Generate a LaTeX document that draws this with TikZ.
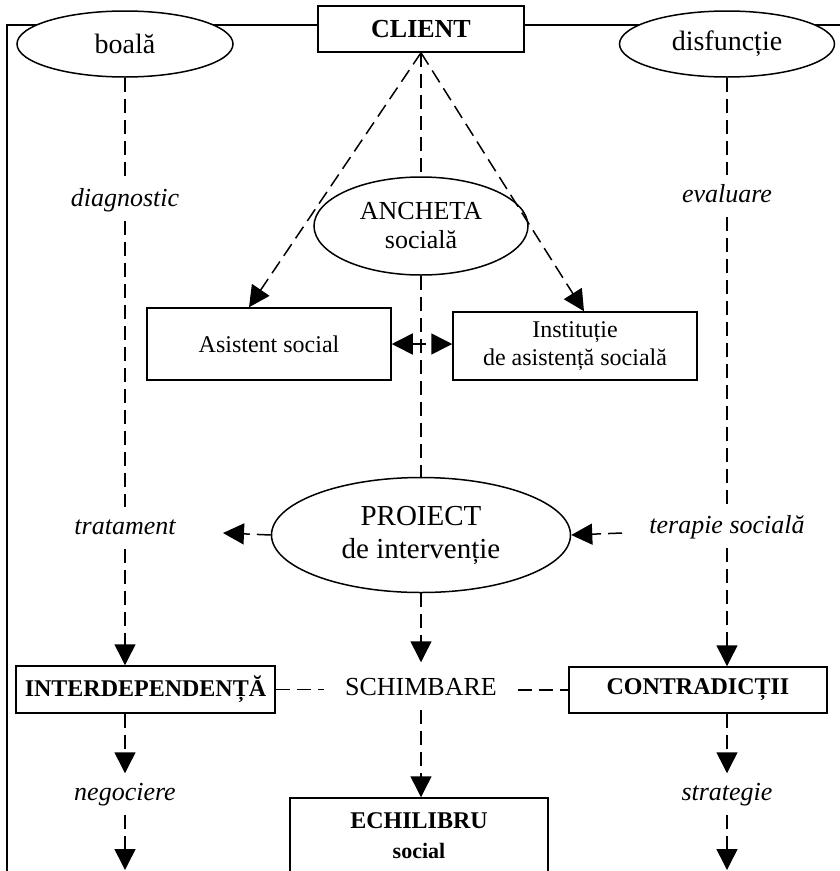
\documentclass[tikz,border=0pt]{standalone}
\usepackage{fontspec}
\setmainfont{Liberation Serif}
\usetikzlibrary{shapes.geometric,arrows.meta,calc}

\begin{document}
\begin{tikzpicture}[x=1pt,y=-1pt,
  line width=1.5pt,
  tip/.tip={Triangle[length=21pt,width=21pt]},
  plain/.style={dash pattern=on 14pt off 7pt},
  conn/.style={plain,-tip},
  oval/.style={ellipse,draw,fill=white,inner sep=0pt,align=center},
  box/.style={rectangle,draw,fill=white,inner sep=0pt,align=center},
  lbl/.style={font=\fontsize{26}{30}\selectfont\itshape,anchor=base,
    text height=18pt,text depth=6pt,inner xsep=2pt,inner ysep=8pt},
]
\useasboundingbox (0,0) rectangle (840,871);

% outer frame (left and top edges)
\coordinate (fb) at (7,874);
\coordinate (ft) at (7,25);
\coordinate (fr) at (842,25);
\draw (fb) -- (ft) -- (fr);

% top row
\node[oval,minimum width=216pt,minimum height=66pt,font=\fontsize{28}{32}\selectfont]
  (boala) at (125,44) {boală};
\node[oval,minimum width=215pt,minimum height=66pt,font=\fontsize{28}{32}\selectfont]
  (disf) at (727,44) {disfuncție};
\node[box,minimum width=206pt,minimum height=46pt,font=\fontsize{26}{30}\selectfont\bfseries]
  (client) at (421,29) {CLIENT};

% inquiry and actors
\node[oval,minimum width=214pt,minimum height=98pt,font=\fontsize{26}{29}\selectfont]
  (anch) at (421,226) {ANCHETA\\socială};
\node[box,minimum width=244pt,minimum height=72pt,font=\fontsize{24}{28}\selectfont]
  (asist) at (269,344) {Asistent social};
\node[box,minimum width=244pt,minimum height=68pt,font=\fontsize{24}{28}\selectfont]
  (inst) at (575,346) {Instituție\\de asistență socială};

% intervention project
\node[oval,minimum width=299pt,minimum height=115pt,font=\fontsize{29}{33}\selectfont]
  (proj) at (421,535) {PROIECT\\de intervenție};

% change row
\node[box,minimum width=259pt,minimum height=47pt,font=\fontsize{24}{28}\selectfont\bfseries]
  (interd) at (145.5,689.5) {INTERDEPENDENȚĂ};
\node[box,minimum width=258pt,minimum height=46pt,font=\fontsize{24}{28}\selectfont\bfseries]
  (contr) at (698,690) {CONTRADICȚII};
\node[font=\fontsize{26}{30}\selectfont,anchor=base,text height=18pt,text depth=0pt,
  inner xsep=20pt,inner ysep=14pt] (schimb) at (421,695) {SCHIMBARE};
\node[box,minimum width=258pt,minimum height=76pt,font=\fontsize{24}{30}\selectfont\bfseries]
  (echi) at (419,836) {ECHILIBRU\\{\fontsize{22}{30}\selectfont social}};

% side labels
\node[lbl] (diag)  at (125,206) {diagnostic};
\node[lbl] (eval)  at (727,202) {evaluare};
\node[lbl] (trat)  at (125,534) {tratament};
\node[lbl] (terap) at (727,533) {terapie socială};
\node[lbl] (nego)  at (125,800) {negociere};
\node[lbl] (strat) at (727,800) {strategie};

% free connector ends
\coordinate (tratTip)    at (223,533);
\coordinate (terapStart) at (622,533);
\coordinate (negoEnd)    at (125,870);
\coordinate (stratEnd)   at (727,870);
\coordinate (asistTip)   at ($(asist.north)+(-20,0)$);
\coordinate (instTip)    at ($(inst.north)+(9,0)$);

% left column
\draw[plain] (boala.south) -- (diag.north);
\draw[plain] (diag.south) -- (trat.north);
\draw[conn]  (trat.south) -- (trat.south |- interd.north);
\draw[conn]  (interd.south -| trat.south) -- (nego.north);
\draw[conn]  (nego.south) -- (negoEnd);

% right column
\draw[plain] (disf.south) -- (eval.north);
\draw[plain] (eval.south) -- (terap.north);
\draw[conn]  (terap.south) -- (terap.south |- contr.north);
\draw[conn]  (contr.south -| terap.south) -- (strat.north);
\draw[conn]  (strat.south) -- (stratEnd);

% centre column
\draw[plain] (client.south) -- (anch.north);
\draw[conn]  (client.south) -- (asistTip);
\draw[conn]  (client.south) -- (instTip);
\draw[plain] (anch.south) -- (proj.north);
\draw[plain,tip-tip] (asist.east) -- (asist.east -| inst.west);
\draw[conn]  (proj.west) -- (tratTip);
\draw[conn]  (terapStart) -- (proj.east);
\draw[conn]  (proj.south) -- (schimb.north);
\draw[conn]  (schimb.south) -- (schimb.south |- echi.north);
\draw[plain] (interd.east) -- (interd.east -| schimb.west);
\draw[plain] (schimb.east |- contr.west) -- (contr.west);
\end{tikzpicture}
\end{document}
